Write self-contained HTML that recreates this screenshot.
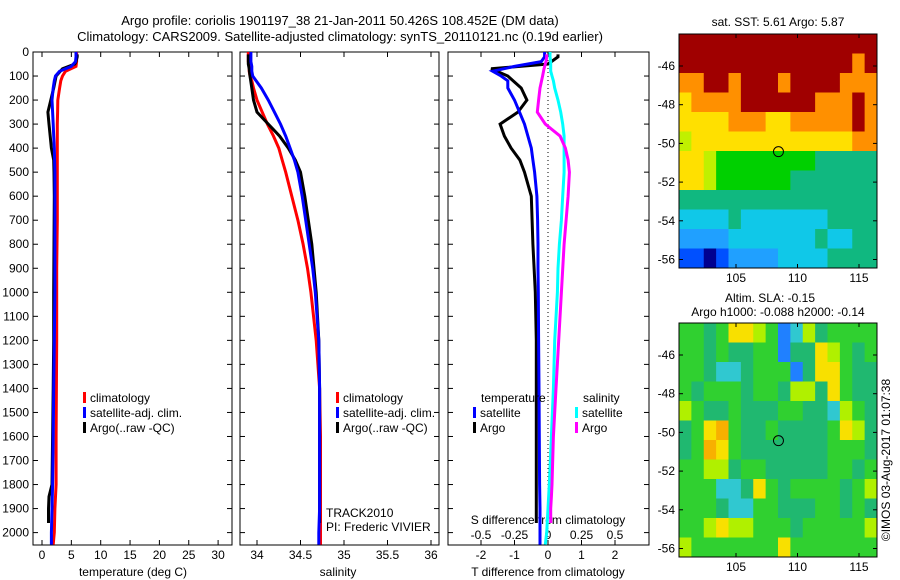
<!DOCTYPE html>
<html><head><meta charset="utf-8"><style>
body{margin:0;background:#fff}
svg{display:block;font-family:"Liberation Sans",sans-serif;font-size:12px}
</style></head><body>
<svg id="c" width="900" height="580" viewBox="0 0 900 580">
<text x="340" y="25" text-anchor="middle" font-size="13">Argo profile: coriolis 1901197_38 21-Jan-2011 50.426S 108.452E (DM data)</text>
<text x="340" y="41" text-anchor="middle" font-size="13">Climatology: CARS2009. Satellite-adjusted climatology: synTS_20110121.nc (0.19d earlier)</text>
<g id="g"></g>
</svg>
<script>
// ---- data ----
const depth=[0,20,40,60,80,100,120,150,200,250,300,350,400,450,500,600,700,800,900,1000,1200,1400,1600,1800,1900,2000,2050];
const tClim=[5.9,5.9,5.9,5.8,4.0,3.5,3.2,3.0,2.7,2.65,2.6,2.6,2.6,2.6,2.6,2.6,2.6,2.55,2.5,2.5,2.5,2.45,2.4,2.4,2.2,2.1,1.9];
const tSat=[5.8,5.8,5.7,5.0,3.0,2.3,2.1,1.9,1.7,1.8,1.9,2.0,2.1,2.15,2.2,2.2,2.2,2.2,2.2,2.2,2.1,2.0,1.9,1.8,1.7,1.6,1.6];
const depthA=[10,20,40,50,70,100,150,200,250,300,350,400,450,500,600,800,1000,1200,1400,1600,1800,1850,1900,1960];
const tArgo=[6.0,6.0,5.8,5.6,3.5,2.4,2.0,1.5,1.0,1.2,1.4,1.6,2.0,2.05,2.1,2.05,2.0,2.0,1.9,1.8,1.7,1.2,1.1,1.1];
const sClim=[33.9,33.9,33.9,33.91,33.91,33.92,33.94,33.96,34.0,34.06,34.12,34.19,34.25,34.29,34.33,34.4,34.47,34.53,34.58,34.62,34.68,34.72,34.73,34.73,34.73,34.73,34.73];
const sSat=[33.93,33.93,33.93,33.94,33.94,33.95,33.99,34.05,34.13,34.2,34.27,34.33,34.38,34.43,34.47,34.52,34.56,34.6,34.64,34.67,34.71,34.72,34.72,34.72,34.72,34.71,34.71];
const sArgo=[33.9,33.9,33.9,33.9,33.91,33.92,33.94,33.96,34.0,34.13,34.26,34.36,34.44,34.5,34.55,34.63,34.68,34.71,34.72,34.72,34.72,34.72,34.72,34.72];
const dTSat=[-0.1,-0.1,-0.2,-1.0,-1.65,-1.4,-1.2,-1.2,-1.0,-0.85,-0.7,-0.6,-0.5,-0.45,-0.4,-0.33,-0.31,-0.3,-0.3,-0.29,-0.28,-0.27,-0.26,-0.25,-0.24,-0.24,-0.24];
const dTArgo=[0.3,0.3,0.1,0.0,-1.7,-1.2,-0.8,-0.63,-0.9,-1.43,-1.3,-1.1,-0.84,-0.7,-0.5,-0.45,-0.38,-0.35,-0.35,-0.35,-0.35,-0.35,-0.35,-0.35];
const dSSat=[0.015,0.015,0.02,0.02,0.02,0.03,0.04,0.05,0.075,0.095,0.11,0.12,0.12,0.12,0.12,0.11,0.1,0.085,0.075,0.07,0.05,0.04,0.025,0.01,0.0,-0.01,-0.02];
const dSArgo=[-0.01,-0.01,-0.015,-0.02,-0.03,-0.04,-0.06,-0.07,-0.08,-0.02,0.09,0.13,0.15,0.16,0.15,0.12,0.1,0.08,0.06,0.04,0.03,0.025,0.02,0.02];
const depthTicks=[0,100,200,300,400,500,600,700,800,900,1000,1100,1200,1300,1400,1500,1600,1700,1800,1900,2000];
const tTicks=[0,5,10,15,20,25,30];
const sTicks=["34","34.5","35","35.5","36"];
const dTTicks=["-2","-1","0","1","2"];
const dSTicks=["-0.5","-0.25","0","0.25","0.5"];
const lonTicks=[105,110,115];
const latTicks=[-46,-48,-50,-52,-54,-56];
const sstGrid=["9999999999999999","9999999999999989","8899899989999888","7888899999988898","7777888778888898","6777777777777788","7765555555544444","7765555554444444","4444444444444444","3333433333334444","2222333333343344","1101222233334444"];
const slaGrid=["5545776523645555","5545445524476545","5543345552477544","5455545546647544","6544544455443654","4578544544445764","4587544444445554","5566455444445545","5553347545555456","5554335544455454","5567665554555556","6555555575555555"];
// ---- drawing ----
const NS="http://www.w3.org/2000/svg",G=document.getElementById('g');
function el(t,a,p){const e=document.createElementNS(NS,t);for(const k in a)e.setAttribute(k,a[k]);(p||G).appendChild(e);return e;}
const Y=d=>52+d*0.2403;
function frame(x0,x1,name){const r=el('rect',{x:x0,y:52,width:x1-x0,height:493,fill:'none',stroke:'#000','stroke-width':1});
 depthTicks.forEach(d=>{el('line',{x1:x0,x2:x0+5,y1:Y(d),y2:Y(d),stroke:'#000'});el('line',{x1:x1-5,x2:x1,y1:Y(d),y2:Y(d),stroke:'#000'});});}
function line(xs,ds,f,col,name){const pts=xs.map((v,i)=>f(v).toFixed(1)+','+Y(ds[i]).toFixed(1)).join(' ');const p=el('polyline',{points:pts,fill:'none',stroke:col,'stroke-width':3});}
function txt(x,y,s,anchor,name,extra){const t=el('text',Object.assign({x:x,y:y,'text-anchor':anchor||'start'},extra||{}));t.textContent=s;return t;}
function xtick(x,top,lab,y,name){el('line',{x1:x,x2:x,y1:545,y2:540,stroke:'#000'});if(top)el('line',{x1:x,x2:x,y1:52,y2:57,stroke:'#000'});txt(x,y,lab,'middle',name);}
function legend(x,y,col,lab,name){el('rect',{x:x,y:y-10,width:3,height:11,fill:col});txt(x+7,y,lab,'start',name);}
// depth labels
depthTicks.forEach(d=>txt(29,Y(d)+4,String(d),'end','depth-tick-label'));
// panel 1 temperature
const XT=v=>42+v*5.87;
frame(33,232,'temperature-panel');
tTicks.forEach(v=>xtick(XT(v),true,String(v),559,'temperature-tick-label'));
txt(133,576,'temperature (deg C)','middle','temperature-axis-title');
line(tClim,depth,XT,'#f00','temp-climatology-line');
line(tArgo,depthA,XT,'#000','temp-argo-line');
line(tSat,depth,XT,'#00f','temp-satellite-line');
legend(83,402,'#f00','climatology','legend-climatology');
legend(83,417,'#00f','satellite-adj. clim.','legend-satellite');
legend(83,432,'#000','Argo(..raw -QC)','legend-argo');
// panel 2 salinity
const XS=v=>257+(v-34)*87;
frame(240,439,'salinity-panel');
sTicks.forEach(v=>xtick(XS(+v),true,v,559,'salinity-tick-label'));
txt(338,576,'salinity','middle','salinity-axis-title');
line(sClim,depth,XS,'#f00','sal-climatology-line');
line(sArgo,depthA,XS,'#000','sal-argo-line');
line(sSat,depth,XS,'#00f','sal-satellite-line');
legend(336,402,'#f00','climatology','legend-climatology-2');
legend(336,417,'#00f','satellite-adj. clim.','legend-satellite-2');
legend(336,432,'#000','Argo(..raw -QC)','legend-argo-2');
txt(326,517,'TRACK2010','start','project-label');
txt(326,531,'PI: Frederic VIVIER','start','pi-label');
// panel 3 differences
const XDT=v=>548+v*33.5, XDS=v=>548+v*134;
frame(448,649,'difference-panel');
el('line',{x1:548,x2:548,y1:52,y2:545,stroke:'#000','stroke-dasharray':'1,3'});
dTTicks.forEach(v=>xtick(XDT(+v),false,v,559,'t-diff-tick-label'));
dSTicks.forEach(v=>{el('line',{x1:XDS(+v),x2:XDS(+v),y1:52,y2:57,stroke:'#000'});txt(XDS(+v),539,v,'middle','s-diff-tick-label');});
txt(548,524,'S difference from climatology','middle','s-diff-axis-title');
txt(548,576,'T difference from climatology','middle','t-diff-axis-title');
line(dTArgo,depthA,XDT,'#000','t-diff-argo-line');
line(dTSat,depth,XDT,'#00f','t-diff-satellite-line');
line(dSSat,depth,XDS,'#0ff','s-diff-satellite-line');
line(dSArgo,depthA,XDS,'#f0f','s-diff-argo-line');
txt(481,402,'temperature','start','legend-temperature-header');
legend(473,417,'#00f','satellite','legend-t-satellite');
legend(473,432,'#000','Argo','legend-t-argo');
txt(583,402,'salinity','start','legend-salinity-header');
legend(575,417,'#0ff','satellite','legend-s-satellite');
legend(575,432,'#f0f','Argo','legend-s-argo');
// maps
const sstCol=['#000090','#0050ff','#20a0ff','#10c8e8','#10b880','#00d000','#c0f000','#ffe000','#ff9000','#a00000'];
const slaCol=['#0000a0','#0040ff','#2080ff','#30c8d0','#20b870','#30d030','#b0f000','#f8e000','#f8b000','#c00000'];
function map(y0,grid,cols,name){
 const x0=679,w=198,h=234,LX=v=>736+(v-105)*12.3,LY=v=>y0+32+(-46-v)*19.35;
 const g=el('g',{});
 const nr=grid.length,nc=grid[0].length,cw=w/nc,ch=h/nr;
 grid.forEach((row,r)=>{for(let c=0;c<nc;c++)el('rect',{x:x0+c*cw,y:y0+r*ch,width:cw+0.5,height:ch+0.5,fill:cols[+row[c]]},g);});
 el('rect',{x:x0,y:y0,width:w,height:h,fill:'none',stroke:'#000'});
 lonTicks.forEach(v=>{el('line',{x1:LX(v),x2:LX(v),y1:y0,y2:y0+4,stroke:'#000'});el('line',{x1:LX(v),x2:LX(v),y1:y0+h,y2:y0+h-4,stroke:'#000'});txt(LX(v),y0+h+14,String(v),'middle','lon-tick-label');});
 latTicks.forEach(v=>{el('line',{x1:x0,x2:x0+4,y1:LY(v),y2:LY(v),stroke:'#000'});el('line',{x1:x0+w,x2:x0+w-4,y1:LY(v),y2:LY(v),stroke:'#000'});txt(675,LY(v)+4,String(v),'end','lat-tick-label');});
 const m=el('circle',{cx:LX(108.452),cy:LY(-50.426),r:5,fill:'none',stroke:'#000'});
}
map(34,sstGrid,sstCol,'sst-map');
txt(778,26,'sat. SST: 5.61  Argo: 5.87','middle','sst-map-title');
map(323,slaGrid,slaCol,'sla-map');
txt(770,302,'Altim. SLA: -0.15','middle','sla-map-title-1');
txt(778,316,'Argo h1000: -0.088 h2000: -0.14','middle','sla-map-title-2');
txt(0,0,'\u00a9IMOS 03-Aug-2017 01:07:38','middle','copyright-timestamp',{transform:'translate(890,460) rotate(-90)'});
</script>
</body></html>
